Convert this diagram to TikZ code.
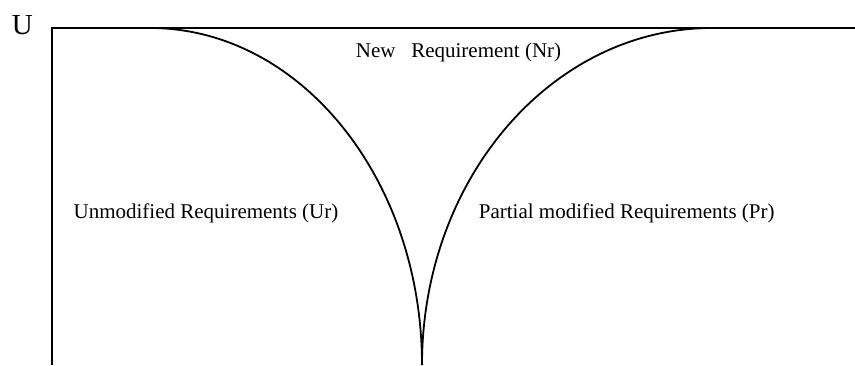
\documentclass[tikz,border=0pt]{standalone}
\usepackage{fontspec}
\setmainfont{Liberation Serif}
\usetikzlibrary{positioning}
\tikzset{
  region/.style={
    % The text:
    font=\fontsize{21}{24}\selectfont,
    % No padding, placed by its baseline:
    inner sep=0pt,anchor=base west
  }}
\tikzset{
	setname/.style={
		font=\fontsize{29}{32}\selectfont,
		inner sep=0pt,anchor=base west}}

\begin{document}
\begin{tikzpicture}[x=1pt,y=1pt,line width=1.8pt]
	\useasboundingbox (0,0) rectangle (855,365);
	% Corners and tips
	\coordinate (corner) at (52,337);
	\coordinate (foot) at (52,0);
	\coordinate (edge) at (855,337);
	\coordinate (ltop) at (150,337);
	\coordinate (tip) at (422,0);
	% The universe
	\draw (foot) -- (corner) -- (edge);
	% The two curves
	\draw (ltop) arc[start angle=90,end angle=0,x radius=272,y radius=337];
	\draw (tip) arc[start angle=180,end angle=90,x radius=290,y radius=337];
	% Labels
	\node[setname] (U) at (11,330) {U};
	\node[region] (nr) at (355,307) {New\ \ \ Requirement (Nr)};
	\node[region] (ur) at (72.7,147) {Unmodified Requirements (Ur)};
	\node[region] (pr) at (478,147) {Partial modified Requirements (Pr)};
\end{tikzpicture}
\end{document}
